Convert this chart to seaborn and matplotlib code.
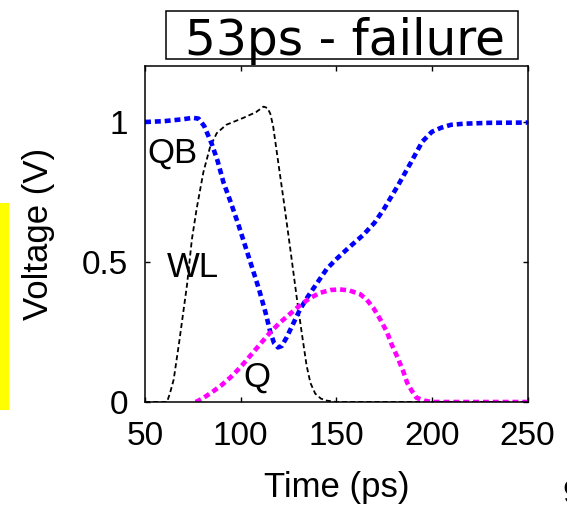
import matplotlib
matplotlib.use("Agg")
import matplotlib.pyplot as plt
from matplotlib.patches import Rectangle
import seaborn as sns
import pandas as pd

# ---- data ----
qb_t = [50, 60, 70, 75, 78, 81, 85, 88, 91, 95, 99, 102.5, 106, 109.5, 113, 115.5,
        117.5, 119.5, 121.5, 124, 127.5, 131, 135, 140, 145, 150, 156, 164, 170, 175,
        182, 189, 195, 200, 205, 210, 217, 230, 250]
qb_v = [1.0, 1.003, 1.01, 1.015, 1.012, 0.985, 0.92, 0.86, 0.785, 0.71, 0.63, 0.555,
        0.48, 0.405, 0.32, 0.25, 0.21, 0.195, 0.2, 0.23, 0.28, 0.33, 0.375, 0.425,
        0.475, 0.51, 0.548, 0.596, 0.64, 0.69, 0.77, 0.855, 0.93, 0.965, 0.98, 0.99,
        0.994, 0.997, 0.998]

wl_t = [50, 61.5, 63, 65, 68, 72, 74.5, 77, 80.5, 84, 87.5, 92.5, 101.5, 108, 112,
        114, 115.5, 117, 120, 122.5, 126, 129.5, 132, 134.5, 136.5, 139, 142, 145,
        150, 250]
wl_v = [0, 0, 0.03, 0.08, 0.22, 0.42, 0.58, 0.69, 0.82, 0.91, 0.96, 0.99, 1.015,
        1.035, 1.055, 1.05, 1.03, 0.985, 0.84, 0.72, 0.545, 0.365, 0.245, 0.13,
        0.068, 0.03, 0.012, 0.005, 0, 0]

q_t = [76.5, 80, 85, 90, 95, 100, 105, 110, 115, 120, 125, 131, 136, 141.5, 147,
       152, 157, 162.5, 166, 169.5, 173, 176.5, 179, 182, 185, 187, 189.5, 192,
       196, 200, 250]
q_v = [0, 0.012, 0.035, 0.06, 0.09, 0.125, 0.165, 0.205, 0.245, 0.28, 0.31, 0.345,
       0.37, 0.39, 0.4, 0.402, 0.398, 0.385, 0.365, 0.335, 0.295, 0.25, 0.205,
       0.16, 0.11, 0.07, 0.04, 0.015, 0.005, 0, 0]

x_ticks = [50, 100, 150, 200, 250]
y_ticks = [0, 0.5, 1]
y_ticklabels = ["0", "0.5", "1"]
curve_labels = ["QB", "WL", "Q"]
title_text = "53ps - failure"

sans = ["Liberation Sans", "DejaVu Sans"]

fig = plt.figure(figsize=(5.67, 5.08), dpi=100)
ax = fig.add_axes([145 / 567, 106 / 508, 382.5 / 567, 336 / 508])

df_wl = pd.DataFrame({"t": wl_t, "v": wl_v})
df_qb = pd.DataFrame({"t": qb_t, "v": qb_v})
df_q = pd.DataFrame({"t": q_t, "v": q_v})

sns.lineplot(data=df_wl, x="t", y="v", ax=ax, color="black", lw=1.3,
             estimator=None, sort=False)
ax.lines[-1].set_dashes([2.8, 1.7])
sns.lineplot(data=df_qb, x="t", y="v", ax=ax, color="#0000ff", lw=3.3,
             estimator=None, sort=False)
ax.lines[-1].set_dashes([1.3, 0.85])
ax.lines[-1].set_dash_capstyle("butt")
sns.lineplot(data=df_q, x="t", y="v", ax=ax, color="#ff00ff", lw=3.3,
             estimator=None, sort=False)
ax.lines[-1].set_dashes([1.3, 0.85])
ax.lines[-1].set_dash_capstyle("butt")

ax.set_xlim(50, 250)
ax.set_ylim(0, 1.2)
ax.set_xticks(x_ticks)
ax.set_xticklabels([str(v) for v in x_ticks], family=sans, fontsize=24)
ax.set_yticks(y_ticks)
ax.set_yticklabels(y_ticklabels, family=sans, fontsize=24)
ax.tick_params(direction="in", top=True, right=True, length=3.6, width=1.0)
ax.tick_params(axis="x", pad=14)
ax.tick_params(axis="y", pad=12)
for s in ax.spines.values():
    s.set_linewidth(1.1)
    s.set_color("black")

ax.set_xlabel("Time (ps)", family=sans, fontsize=25)
ax.xaxis.set_label_coords(0.5, -0.205)
ax.set_ylabel("Voltage (V)", family=sans, fontsize=25)
ax.yaxis.set_label_coords(-0.235, 0.5)

# curve labels
ax.text(51.0, 0.854, curve_labels[0], family=sans, fontsize=25, ha="left", va="baseline")
ax.text(61.5, 0.446, curve_labels[1], family=sans, fontsize=25, ha="left", va="baseline")
ax.text(101.3, 0.054, curve_labels[2], family=sans, fontsize=25, ha="left", va="baseline")

# boxed title
fig.add_artist(Rectangle((166 / 567, 1 - 59 / 508), 352 / 567, 48 / 508,
                         transform=fig.transFigure, fill=False, lw=1.1,
                         edgecolor="black"))
fig.text(345 / 567, 1 - 55 / 508, title_text, family="DejaVu Sans", fontsize=35,
         ha="center", va="baseline")

# yellow marker bar on the left edge
fig.add_artist(Rectangle((0, 1 - 410 / 508), 9 / 567, 207 / 508,
                         transform=fig.transFigure, color="#ffff00", lw=0))
# cut-off page number at the lower right (cut off in the reference too)
fig.text(562 / 567, 1 - 503 / 508, "9", family=sans, fontsize=24,
         ha="left", va="baseline")

fig.savefig("out.png", dpi=100)
